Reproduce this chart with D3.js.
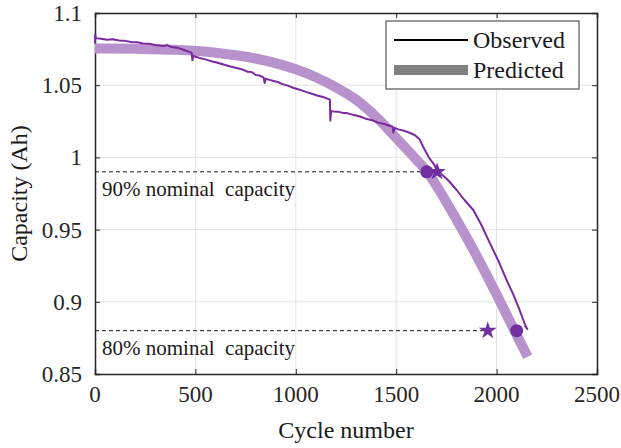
<!DOCTYPE html>
<html>
<head>
  <meta charset="utf-8">
  <title>Capacity</title>
  <script src="https://d3js.org/d3.v7.min.js"></script>
<style type="text/css">
body {
  margin: 0;
  background: #fff;
  font-family: "Liberation Serif", "Times New Roman", serif;
}
.grid line {
  stroke: #e3e3e3;
  stroke-width: 1;
}
.tick-label {
  font-size: 23px;
  fill: #262626;
}
.axis-title {
  font-size: 24px;
  fill: #1a1a1a;
}
.note {
  font-size: 21px;
  fill: #1a1a1a;
}
</style>
</head>
<body>
<svg id="chart" width="621" height="448"></svg>
<script type="text/javascript">

// tick labels
let xTicks = [0, 500, 1000, 1500, 2000, 2500];
let yTicks = [0.85, 0.9, 0.95, 1, 1.05, 1.1];

// observed capacity
let obsCycle = [0, 1, 4, 30, 60, 90, 120, 150, 180, 210, 240, 270, 300, 330, 345, 360, 380, 410, 440, 470,
  482, 485, 490, 520, 550, 580, 610, 640, 670, 700, 730, 760, 780, 800, 820, 840, 845, 850, 870, 890,
  910, 930, 960, 990, 1020, 1050, 1080, 1110, 1140, 1170, 1172, 1176, 1190, 1210, 1230, 1260, 1290, 1320, 1350, 1380,
  1410, 1440, 1470, 1482, 1486, 1492, 1510, 1540, 1570, 1595, 1615, 1640, 1665, 1690, 1698, 1703, 1720, 1760, 1800, 1840,
  1884, 1925, 1967, 2010, 2050, 2080, 2108, 2133, 2148, 2153, 2140];
let obsCap = [1.0790, 1.0852, 1.0826, 1.0822, 1.0815, 1.0818, 1.0810, 1.0807, 1.0799, 1.0798, 1.0789, 1.0787, 1.0778, 1.0774, 1.0772, 1.0778, 1.0764, 1.0759, 1.0745, 1.0731,
  1.0722, 1.0672, 1.0702, 1.0689, 1.0679, 1.0666, 1.0656, 1.0643, 1.0631, 1.0621, 1.0611, 1.0593, 1.0591, 1.0571, 1.0567, 1.0552, 1.0515, 1.0545, 1.0537, 1.0529,
  1.0522, 1.0509, 1.0497, 1.0481, 1.0469, 1.0454, 1.0441, 1.0427, 1.0416, 1.0400, 1.0255, 1.0322, 1.0317, 1.0316, 1.0310, 1.0305, 1.0293, 1.0283, 1.0267, 1.0257,
  1.0241, 1.0231, 1.0217, 1.0214, 1.0172, 1.0205, 1.0194, 1.0184, 1.0169, 1.0152, 1.0128, 1.0058, 0.9995, 0.9948, 0.9925, 0.9942, 0.9890, 0.9840, 0.9776, 0.9705,
  0.9636, 0.9530, 0.9405, 0.9280, 0.9150, 0.9060, 0.8966, 0.8874, 0.8822, 0.8812, 0.8835];

// predicted capacity
let predCycle = [0, 200, 400, 600, 800, 1000, 1100, 1200, 1300, 1400, 1500, 1600, 1660, 1700, 1800, 1900, 2000, 2100, 2155];
let predCap = [1.0755, 1.0752, 1.0745, 1.0725, 1.0685, 1.0610, 1.0555, 1.0485, 1.0400, 1.0280, 1.0135, 0.9985, 0.9890, 0.9805, 0.9570, 0.9320, 0.9050, 0.8770, 0.8620];

// end-of-life thresholds and markers
let thresholdLabels = ['90% nominal  capacity', '80% nominal  capacity'];
let thresholdCap = [0.99, 0.88];
let dashEnd = [1640, 1935];
let circleCycle = [1652, 2100];
let starCycle = [1703, 1956];

let svg = d3.select('#chart');
let margin = {left: 95, right: 24, top: 13, bottom: 74};
let w = 621 - margin.left - margin.right;
let h = 448 - margin.top - margin.bottom;

let x = d3.scaleLinear().domain([0, 2500]).range([margin.left, margin.left + w]);
let y = d3.scaleLinear().domain([0.85, 1.1]).range([margin.top + h, margin.top]);

// grid
let grid = svg.append('g').attr('class', 'grid');
grid.selectAll('.gx').data(xTicks.slice(1, -1)).enter().append('line')
  .attr('x1', d => x(d)).attr('x2', d => x(d))
  .attr('y1', y(0.85)).attr('y2', y(1.1));
grid.selectAll('.gy').data(yTicks.slice(1, -1)).enter().append('line')
  .attr('x1', x(0)).attr('x2', x(2500))
  .attr('y1', d => y(d)).attr('y2', d => y(d));

// axes (ticks inside, on all four sides)
let fmtY = d => d === 1 ? '1' : String(d);
let axes = [
  d3.axisBottom(x).tickValues(xTicks).tickSize(-5).tickFormat(''),
  d3.axisTop(x).tickValues(xTicks).tickSize(-5).tickFormat(''),
  d3.axisLeft(y).tickValues(yTicks).tickSize(-5).tickFormat(''),
  d3.axisRight(y).tickValues(yTicks).tickSize(-5).tickFormat('')
];
let pos = ['translate(0,' + y(0.85) + ')', 'translate(0,' + y(1.1) + ')', 'translate(' + x(0) + ',0)', 'translate(' + x(2500) + ',0)'];
axes.forEach(function(a, i) {
  let g = svg.append('g').attr('transform', pos[i]).call(a);
  g.selectAll('path, line').attr('stroke', '#262626');
  g.select('.domain').attr('stroke-width', 1.5);
});

// tick labels
svg.selectAll('.xl').data(xTicks).enter().append('text')
  .attr('class', 'tick-label')
  .attr('x', d => x(d)).attr('y', 402)
  .attr('text-anchor', 'middle')
  .text(d => d);
svg.selectAll('.yl').data(yTicks).enter().append('text')
  .attr('class', 'tick-label')
  .attr('x', 82).attr('y', d => y(d) + 8)
  .attr('text-anchor', 'end')
  .text(fmtY);

// axis titles
svg.append('text').attr('class', 'axis-title')
  .attr('x', x(1250)).attr('y', 438)
  .attr('text-anchor', 'middle')
  .text('Cycle number');
svg.append('text').attr('class', 'axis-title')
  .attr('transform', 'translate(27,' + y(0.975) + ') rotate(-90)')
  .attr('text-anchor', 'middle')
  .text('Capacity (Ah)');

// threshold dashed lines and labels
svg.selectAll('.thr').data(thresholdCap).enter().append('line')
  .attr('x1', x(0)).attr('x2', (d, i) => x(dashEnd[i]))
  .attr('y1', d => y(d)).attr('y2', d => y(d))
  .attr('stroke', '#1a1a1a').attr('stroke-width', 1)
  .attr('stroke-dasharray', '4,3');
svg.selectAll('.note').data(thresholdLabels).enter().append('text')
  .attr('class', 'note')
  .attr('x', 102).attr('y', (d, i) => y(thresholdCap[i]) + 24)
  .style('white-space', 'pre')
  .attr('xml:space', 'preserve')
  .text(d => d);

// predicted band
let pred = predCycle.map((c, i) => [c, predCap[i]]);
svg.append('path')
  .datum(pred)
  .attr('fill', 'none')
  .attr('stroke', '#b892cd')
  .attr('stroke-width', 10)
  .attr('d', d3.line().curve(d3.curveMonotoneX).x(d => x(d[0])).y(d => y(d[1])));

// observed line
let obs = obsCycle.map((c, i) => [c, obsCap[i]]);
svg.append('path')
  .datum(obs)
  .attr('fill', 'none')
  .attr('stroke', '#7a2a9e')
  .attr('stroke-width', 2)
  .attr('stroke-linejoin', 'round')
  .attr('d', d3.line().x(d => x(d[0])).y(d => y(d[1])));

// markers
svg.selectAll('.circ').data(circleCycle).enter().append('circle')
  .attr('cx', d => x(d)).attr('cy', (d, i) => y(thresholdCap[i]))
  .attr('r', 6.5)
  .attr('fill', '#7030a0');
svg.selectAll('.star').data(starCycle).enter().append('path')
  .attr('transform', (d, i) => 'translate(' + x(d) + ',' + y(thresholdCap[i]) + ')')
  .attr('d', d3.symbol().type(d3.symbolStar).size(100))
  .attr('fill', '#7030a0');

// legend
let lg = svg.append('g');
lg.append('rect')
  .attr('x', 386).attr('y', 21).attr('width', 193).attr('height', 68)
  .attr('fill', '#fff').attr('stroke', '#555').attr('stroke-width', 1.2);
lg.append('line').attr('x1', 394).attr('x2', 468).attr('y1', 40).attr('y2', 40)
  .attr('stroke', '#000').attr('stroke-width', 2);
lg.append('line').attr('x1', 394).attr('x2', 468).attr('y1', 70).attr('y2', 70)
  .attr('stroke', '#808080').attr('stroke-width', 10);
lg.append('text').attr('class', 'axis-title').attr('x', 473).attr('y', 48).text('Observed');
lg.append('text').attr('class', 'axis-title').attr('x', 473).attr('y', 78).text('Predicted');

</script>
</body>
</html>
